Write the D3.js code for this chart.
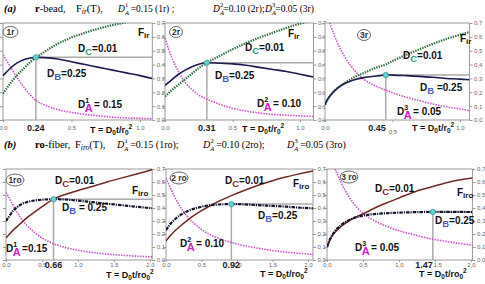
<!DOCTYPE html>
<html><head><meta charset="utf-8">
<script src="https://cdn.jsdelivr.net/npm/d3@7"></script>
<style>body{margin:0;background:#fff}svg{display:block}</style>
</head><body><svg id="c" width="485" height="284"></svg>
<script>
// ---------- DATA ----------
const yTickVals = [0,0.1,0.2,0.3,0.4,0.5,0.6,0.7];
const xTicksA = [0,0.5,1.0];
const xTicksB = [0,0.5,1.0,1.5,2.0];

// panel 1r
const T_1r = [0,0.05,0.1,0.15,0.2,0.24,0.3,0.4,0.5,0.6,0.7,0.8,0.9,1.0,1.09];
const A_1r = [0.47,0.39,0.31,0.24,0.18,0.14,0.11,0.075,0.055,0.04,0.03,0.02,0.015,0.012,0.01];
const B_1r = [0.32,0.37,0.41,0.435,0.448,0.452,0.45,0.44,0.42,0.40,0.38,0.36,0.34,0.32,0.30];
const C_1r = [0.19,0.26,0.32,0.37,0.42,0.45,0.49,0.55,0.595,0.63,0.66,0.685,0.705,0.725,0.74];
// panel 2r
const T_2r = [0,0.05,0.1,0.15,0.2,0.25,0.31,0.4,0.5,0.6,0.7,0.8,0.9,1.0,1.1];
const A_2r = [0.59,0.45,0.35,0.27,0.22,0.18,0.15,0.115,0.085,0.065,0.05,0.04,0.035,0.03,0.025];
const B_2r = [0.25,0.29,0.33,0.36,0.385,0.403,0.413,0.41,0.405,0.395,0.38,0.365,0.35,0.33,0.31];
const C_2r = [0.17,0.215,0.255,0.295,0.335,0.375,0.413,0.46,0.51,0.555,0.595,0.63,0.665,0.695,0.72];
// panel 3r
const TA_3r = [0.03,0.05,0.1,0.15,0.2,0.25,0.3,0.4,0.45,0.5,0.6,0.7,0.8,0.9,1.0,1.07];
const A_3r = [0.72,0.66,0.54,0.45,0.38,0.325,0.285,0.235,0.215,0.197,0.165,0.14,0.115,0.095,0.08,0.068];
const T_3r = [0,0.02,0.05,0.1,0.15,0.2,0.3,0.4,0.45,0.5,0.6,0.7,0.8,0.9,1.0,1.07];
const B_3r = [0.11,0.15,0.19,0.235,0.265,0.285,0.308,0.32,0.325,0.324,0.32,0.315,0.308,0.30,0.295,0.29];
const C_3r = [0.11,0.15,0.19,0.235,0.27,0.30,0.345,0.385,0.40,0.425,0.47,0.51,0.55,0.585,0.615,0.635];
// panel 1ro
const T_1ro = [0,0.05,0.1,0.15,0.2,0.3,0.4,0.5,0.66,0.8,1.0,1.2,1.4,1.6,1.8,2.0,2.03];
const A_1ro = [0.52,0.47,0.42,0.37,0.33,0.26,0.21,0.17,0.125,0.1,0.075,0.058,0.046,0.037,0.03,0.025,0.024];
const B_1ro = [0.30,0.34,0.38,0.405,0.425,0.447,0.458,0.464,0.468,0.466,0.457,0.445,0.433,0.422,0.41,0.40,0.398];
const C_1ro = [0.17,0.2,0.23,0.255,0.28,0.33,0.37,0.41,0.468,0.50,0.535,0.565,0.60,0.63,0.66,0.69,0.695];
// panel 2ro
const T_2ro = [0,0.05,0.1,0.2,0.3,0.4,0.5,0.6,0.7,0.92,1.1,1.3,1.5,1.7,1.9,2.07];
const A_2ro = [0.63,0.57,0.51,0.41,0.335,0.28,0.235,0.2,0.175,0.135,0.11,0.09,0.073,0.06,0.05,0.043];
const B_2ro = [0.23,0.27,0.30,0.345,0.375,0.395,0.41,0.42,0.426,0.43,0.428,0.422,0.416,0.41,0.402,0.397];
const C_2ro = [0.145,0.18,0.21,0.26,0.305,0.345,0.38,0.41,0.44,0.495,0.535,0.575,0.61,0.64,0.665,0.685];
// panel 3ro
const TA_3ro = [0.1,0.15,0.2,0.3,0.4,0.5,0.6,0.7,0.8,1.0,1.2,1.47,1.6,1.8,2.02];
const A_3ro = [0.72,0.65,0.59,0.49,0.415,0.36,0.32,0.29,0.265,0.225,0.195,0.16,0.148,0.13,0.115];
const T_3ro = [0,0.05,0.1,0.2,0.3,0.4,0.5,0.7,0.9,1.1,1.3,1.47,1.7,2.02];
const B_3ro = [0.1,0.17,0.215,0.27,0.305,0.328,0.342,0.355,0.362,0.366,0.369,0.37,0.37,0.369];
const C_3ro = [0.1,0.165,0.205,0.26,0.3,0.33,0.355,0.41,0.455,0.5,0.54,0.565,0.6,0.63];

// peaks (T*, F*)
const peakT = [0.24,0.31,0.45,0.66,0.92,1.47];
const peakF = [0.452,0.413,0.325,0.468,0.43,0.37];
const peakLabels = ["0.24","0.31","0.45","0.66","0.92","1.47"];
const panelNames = ["1r","2r","3r","1ro","2 ro","3 ro"];
const daSup = ["1","2","3","1","2","3"];
const daVals = ["= 0.15","= 0.10","= 0.05","=0.15","= 0.10","= 0.05"];
const dbVals = ["=0.25","=0.25"," =0.25"," = 0.25","=0.25","=0.25"];
const dcVals = ["=0.01","=0.01","=0.01","=0.01","=0.01","=0.01"];

// ---------- LAYOUT ----------
const rows = [{top:23, bot:120}, {top:169, bot:260}];
const panels = [
 {row:0, x0:3,   k:137, xmax:1.09, TA:T_1r,  A:A_1r, T:T_1r,  B:B_1r,  C:C_1r,  comma:false, rcomma:false,
  circ:[7.5,9,7.5,5.5], dc:[75,29], db:[44,54], da:[75,85], f:[135,13], pk:"middle", tt:[87,13]},
 {row:0, x0:165, k:135, xmax:1.1,  TA:T_2r,  A:A_2r, T:T_2r,  B:B_2r,  C:C_2r,  comma:false, rcomma:false,
  circ:[11,9,6.5,5.5], dc:[80,28], db:[50,56], da:[92,84], f:[123,14], pk:"middle", tt:[77,12]},
 {row:0, x0:325, k:135, xmax:1.07, TA:TA_3r, A:A_3r, T:T_3r,  B:B_3r,  C:C_3r,  comma:true, rcomma:true,
  circ:[39,12,6.5,5.5], dc:[78,36], db:[95,68], da:[72,92], f:[135,19], pk:"end", tt:[87,11]},
 {row:1, x0:6,   k:72,  xmax:2.03, TA:T_1ro, A:A_1ro, T:T_1ro, B:B_1ro, C:C_1ro, comma:false, rcomma:false,
  circ:[9,11,9,6], dc:[49,15], db:[56,42], da:[0,83], f:[126,25], pk:"middle", tt:[100,18]},
 {row:1, x0:166, k:71,  xmax:2.07, TA:T_2ro, A:A_2ro, T:T_2ro, B:B_2ro, C:C_2ro, comma:false, rcomma:true,
  circ:[13,9,9,6], dc:[59,15], db:[92,50], da:[14,78], f:[127,18], pk:"middle", tt:[94,17]},
 {row:1, x0:327, k:72,  xmax:2.02, TA:TA_3ro, A:A_3ro, T:T_3ro, B:B_3ro, C:C_3ro, comma:true, rcomma:true,
  circ:[22,8,9,6], dc:[48,23], db:[108,55], da:[28,82], f:[130,27], pk:"end", tt:[92,17]}
];

const svg = d3.select('#c');
const SANS = "'Liberation Sans', Arial, sans-serif";
const SERIF = "'Liberation Serif', 'Times New Roman', serif";

const colA = "#c652c6", colAlab = "#cc22cc", colBlab = "#4a5cc8";
const styles = [
 {B:{stroke:"#1c1c4e", w:1.6, dash:null}, C:{stroke:"#2c6e3c", w:2.2, dash:"1.4,1.1"}, Clab:"#2aa07a"},
 {B:{stroke:"#12122e", w:2.2, dash:"3.5,1,1.2,1"}, C:{stroke:"#6e2a24", w:1.5, dash:null}, Clab:"#9a1a22"}
];

// ---------- HEADERS ----------
function header(y, tag, bold, rest, fsub, items, dsize){
  svg.append('text').attr('x',4).attr('y',y).attr('font-family',SERIF).attr('font-size',10.5)
    .attr('font-weight','bold').attr('font-style','italic').text(tag);
  const t1 = svg.append('text').attr('x',35).attr('y',y).attr('font-family',SERIF).attr('font-size',10.5);
  t1.append('tspan').attr('font-weight','bold').text(bold);
  t1.append('tspan').text(rest);
  const t2 = svg.append('text').attr('x', items.fx).attr('y',y).attr('font-family',SERIF).attr('font-size',10.5);
  t2.append('tspan').text('F');
  t2.append('tspan').attr('font-size',7.5).attr('font-style','italic').attr('dy',2).text(fsub);
  t2.append('tspan').attr('dy',-2).text('(T),');
  items.d.forEach(d => {
    const tt = svg.append('text').attr('x', d.x).attr('y', y).attr('font-family',SERIF).attr('font-size',dsize);
    tt.append('tspan').attr('font-style','italic').text('D');
    tt.append('tspan').attr('font-style','italic').attr('font-size',6.5).attr('dy',2.5).text('A');
    tt.append('tspan').attr('font-size',6.5).attr('dx',-3.8).attr('dy',-7.5).text(d.n);
    tt.append('tspan').attr('dy',5).text(d.txt);
  });
}
header(12, '(a)', 'r', '-bead,', 'ir', {fx:76, d:[{x:118,n:'1',txt:' =0.15 (1r) ;'},{x:213,n:'2',txt:'=0.10 (2r);'},{x:265,n:'3',txt:'=0.05 (3r)'}]}, 9.5);
header(148, '(b)', 'ro', '-fiber,', 'iro', {fx:75, d:[{x:117,n:'1',txt:' =0.15 (1ro);'},{x:203,n:'2',txt:' =0.10 (2ro);'},{x:287,n:'3',txt:' =0.05 (3ro)'}]}, 10);

// ---------- PANELS ----------
panels.forEach((p, i) => {
  const r = rows[p.row];
  const st = styles[p.row];
  const x = d3.scaleLinear().domain([0, p.xmax]).range([p.x0, p.x0 + p.k * p.xmax]);
  const y = d3.scaleLinear().domain([0, 0.7]).range([r.bot, r.top]);
  const xr = x.range()[1];
  const g = svg.append('g');
  const fmt = c => (v => { const s = d3.format('.1f')(v); return c ? s.replace('.', ',') : s; });

  // frame
  g.append('rect').attr('x', p.x0).attr('y', r.top).attr('width', xr - p.x0).attr('height', r.bot - r.top)
    .attr('fill', '#fff').attr('stroke', '#9a9a9a').attr('stroke-width', 1);

  // axes
  const ra = g.append('g').attr('transform', `translate(${xr},0)`)
    .call(d3.axisRight(y).tickValues(yTickVals).tickSize(3).tickPadding(1.5).tickFormat(fmt(p.rcomma)));
  const la = g.append('g').attr('transform', `translate(${p.x0},0)`)
    .call(d3.axisLeft(y).tickValues(yTickVals).tickSize(3).tickFormat(''));
  const ba = g.append('g').attr('transform', `translate(0,${r.bot})`)
    .call(d3.axisBottom(x).tickValues(p.row === 0 ? xTicksA : xTicksB).tickSize(2)
      .tickPadding(p.row === 0 ? 4 : 1).tickFormat(fmt(p.comma)));
  [ra, la, ba].forEach(a => {
    a.selectAll('path,line').attr('stroke', '#999');
    a.selectAll('text').attr('font-family', SANS).attr('font-size', 6).attr('fill', '#666');
  });
  ra.select('.domain').remove(); la.select('.domain').remove(); ba.select('.domain').remove();
  if (i === 2) ba.selectAll('.tick text').filter(d => d === 0.5).attr('dy', '1.3em');
  if (i === 5) ba.selectAll('.tick text').filter(d => d === 1.5).attr('dx', '0.35em');

  // clip
  const cid = 'clip' + i;
  svg.append('clipPath').attr('id', cid).append('rect')
    .attr('x', p.x0).attr('y', r.top).attr('width', xr - p.x0).attr('height', r.bot - r.top);
  const pg = g.append('g').attr('clip-path', `url(#${cid})`);

  // guide lines
  pg.append('line').attr('x1', x(peakT[i])).attr('x2', x(peakT[i])).attr('y1', y(peakF[i])).attr('y2', r.bot)
    .attr('stroke', '#aaa').attr('stroke-width', 1.5);
  pg.append('line').attr('x1', x(peakT[i])).attr('x2', xr).attr('y1', y(peakF[i])).attr('y2', y(peakF[i]))
    .attr('stroke', '#aaa').attr('stroke-width', 1.5);

  const line = d3.line().x(d => x(d[0])).y(d => y(d[1])).curve(d3.curveMonotoneX);
  function draw(ts, vs, s){
    const path = pg.append('path').datum(ts.map((t, j) => [t, vs[j]])).attr('d', line)
      .attr('fill', 'none').attr('stroke', s.stroke).attr('stroke-width', s.w);
    if (s.dash) path.attr('stroke-dasharray', s.dash);
  }
  draw(p.TA, p.A, {stroke: colA, w: 1.6, dash: "1.5,1.2"});
  draw(p.T, p.C, st.C);
  draw(p.T, p.B, st.B);

  // peak marker
  g.append('circle').attr('cx', x(peakT[i])).attr('cy', y(peakF[i])).attr('r', 2.6)
    .attr('fill', '#63d3d3').attr('stroke', '#2a9a9a').attr('stroke-width', 0.8);

  // peak label
  const pkx = p.pk === 'end' ? x(peakT[i]) : x(peakT[i]);
  g.append('text').attr('x', pkx).attr('y', p.row === 0 ? 131 : 268).attr('text-anchor', p.pk)
    .attr('font-family', SANS).attr('font-weight', 'bold').attr('font-size', 9).attr('fill', '#222')
    .text(peakLabels[i]);

  // axis title T = D0t/r0^2
  const ox = p.x0, oy = r.top;
  const tt = g.append('text').attr('x', p.x0 + p.tt[0]).attr('y', r.bot + p.tt[1])
    .attr('font-family', SANS).attr('font-weight', 'bold').attr('font-size', 9).attr('fill', '#111');
  tt.append('tspan').text('T = D');
  tt.append('tspan').attr('font-size', 6.5).attr('dy', 2).text('0');
  tt.append('tspan').attr('dy', -2).text(p.row === 0 ? 't/r' : 't/ro');
  tt.append('tspan').attr('font-size', 6.5).attr('dy', 2).text('0');
  tt.append('tspan').attr('font-size', 6.5).attr('dy', -6).text('2');

  // panel name ellipse
  g.append('ellipse').attr('cx', ox + p.circ[0]).attr('cy', oy + p.circ[1]).attr('rx', p.circ[2]).attr('ry', p.circ[3])
    .attr('fill', '#fff').attr('stroke', '#555').attr('stroke-width', 0.9);
  g.append('text').attr('x', ox + p.circ[0]).attr('y', oy + p.circ[1] + 3).attr('text-anchor', 'middle')
    .attr('font-family', SANS).attr('font-weight', 'bold').attr('font-size', 8.5).attr('fill', '#333')
    .text(panelNames[i]);

  // labels
  const lab = (pos) => g.append('text').attr('x', ox + pos[0]).attr('y', oy + pos[1])
    .attr('font-family', SANS).attr('font-weight', 'bold').attr('font-size', 10).attr('fill', '#111');
  const dc = lab(p.dc);
  dc.append('tspan').text('D');
  dc.append('tspan').attr('dy', 3).attr('font-size', 9.5).attr('fill', st.Clab).text('C');
  dc.append('tspan').attr('dy', -3).text(dcVals[i]);
  const db = lab(p.db);
  db.append('tspan').text('D');
  db.append('tspan').attr('dy', 3).attr('font-size', 9.5).attr('fill', colBlab).text('B');
  db.append('tspan').attr('dy', -3).text(dbVals[i]);
  const da = lab(p.da);
  da.append('tspan').text('D');
  da.append('tspan').attr('dy', -5).attr('font-size', 7).text(daSup[i]);
  da.append('tspan').attr('dx', -4.5).attr('dy', 9).attr('font-size', 11).attr('fill', colAlab).text('A');
  da.append('tspan').attr('dx', 1.5).attr('dy', -4).text(daVals[i]);
  const f = lab(p.f);
  f.append('tspan').text('F');
  f.append('tspan').attr('dy', 2).attr('font-size', 8).text(p.row === 0 ? 'ir' : 'iro');
});
</script></body></html>
